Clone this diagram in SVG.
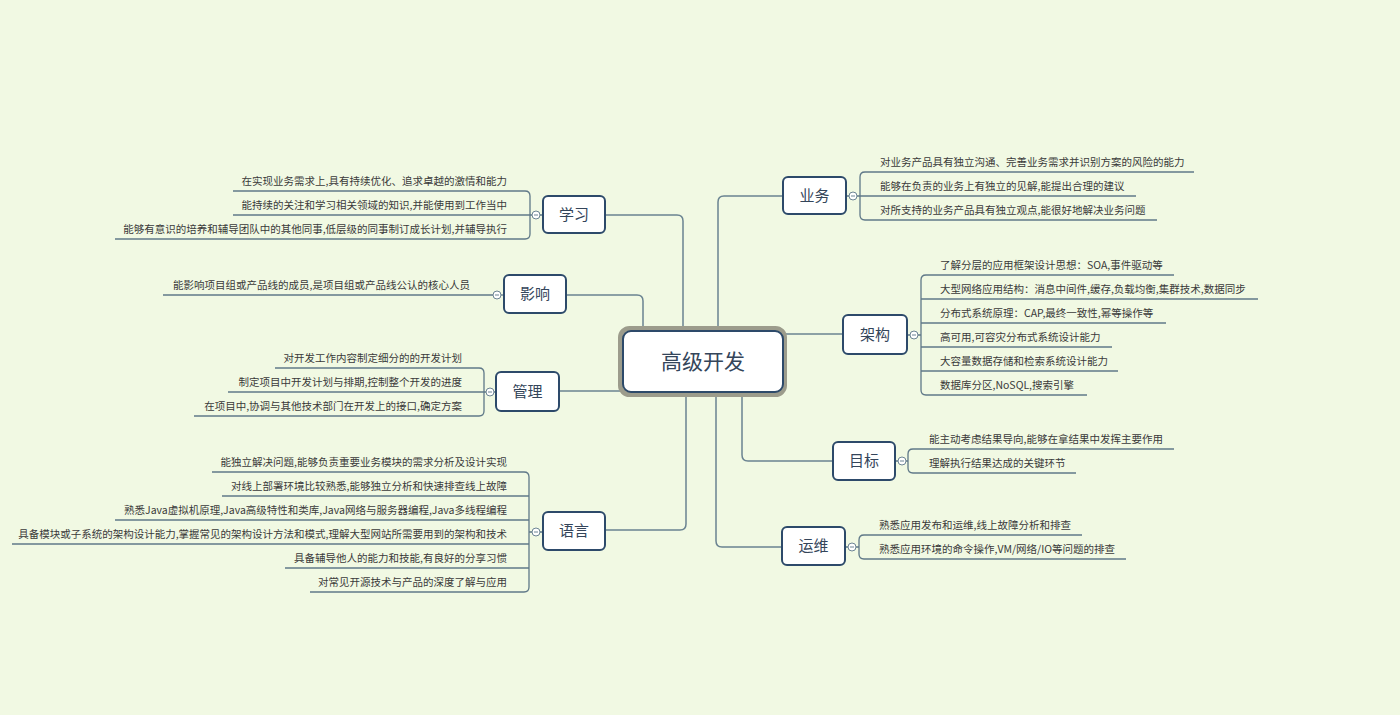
<svg xmlns="http://www.w3.org/2000/svg" width="1400" height="715" viewBox="0 0 1400 715">
<defs>
<style>
.bg{fill:#f1f9e3}
.conn{fill:none;stroke:#6a8391;stroke-width:1.5}
.br{fill:none;stroke:#5f7888;stroke-width:1.3}
.ul{fill:none;stroke:#5f7888;stroke-width:1.3}
.box{fill:#ffffff;stroke:#2d4a6a;stroke-width:2}
.lbl{font-family:"Noto Sans CJK SC","Noto Sans",sans-serif;font-size:15px;fill:#34455a;text-anchor:middle}
.it{font-family:"Noto Sans CJK SC","Noto Sans",sans-serif;font-size:10.5px;fill:#3a3a3a}
.l{text-anchor:end}
.r{text-anchor:start}
.cc{fill:#ffffff;stroke:#6d8594;stroke-width:1}
.cm{stroke:#6d8594;stroke-width:1}
</style>
</defs>
<rect class="bg" x="0" y="0" width="1400" height="715"/>

<g id="connectors">
<path class="conn" d="M605,215 H677 Q683,215 683,221 V331"/>
<path class="conn" d="M566,295 H637 Q643,295 643,301 V331"/>
<path class="conn" d="M718,331 V202 Q718,196 724,196 H783"/>
<path class="conn" d="M783,334 H843"/>
<path class="conn" d="M559,391 H623"/>
<path class="conn" d="M686,392 V524 Q686,530 680,530 H605"/>
<path class="conn" d="M716,392 V541 Q716,547 722,547 H782"/>
<path class="conn" d="M742,392 V455 Q742,461 748,461 H833"/>
<!-- brackets -->
<path class="br" d="M525,191 Q530,191 530,196 V234 Q530,239 525,239 M530,215 H543"/>
<path class="br" d="M497,295 H504"/>
<path class="br" d="M479,368 Q484,368 484,373 V411 Q484,416 479,416 M484,392 H496"/>
<path class="br" d="M524,472 Q529,472 529,477 V587 Q529,592 524,592 M529,532 H543"/>
<path class="br" d="M865,172 Q860,172 860,177 V215 Q860,220 865,220 M846,196 H860"/>
<path class="br" d="M926,275 Q921,275 921,280 V390 Q921,395 926,395 M907,335 H921"/>
<path class="br" d="M913,449 Q908,449 908,454 V468 Q908,473 913,473 M895,461 H908"/>
<path class="br" d="M864,535 Q859,535 859,540 V554 Q859,559 864,559 M845,547 H859"/>
</g>

<g id="center">
<rect x="620.5" y="328.5" width="164" height="66" rx="9" fill="none" stroke="#9c9c8c" stroke-width="5"/>
<rect x="623" y="331" width="160" height="61" rx="8" fill="#ffffff" stroke="#2d4a6a" stroke-width="2"/>
<text x="703" y="369" font-family="Noto Sans CJK SC, sans-serif" font-size="21" fill="#34455a" text-anchor="middle">高级开发</text>
</g>

<g id="node-xuexi">
<rect class="box" x="543" y="196" width="62" height="37" rx="5"/>
<text class="lbl" x="574" y="220">学习</text>
<circle class="cc" cx="536" cy="215" r="4"/><line class="cm" x1="534" y1="215" x2="538" y2="215"/>
<g id="xuexi-1"><path class="ul" d="M233,191 H525"/><text class="it l" x="507" y="185">在实现业务需求上,具有持续优化、追求卓越的激情和能力</text></g>
<g id="xuexi-2"><path class="ul" d="M233,215 H530"/><text class="it l" x="507" y="209">能持续的关注和学习相关领域的知识,并能使用到工作当中</text></g>
<g id="xuexi-3"><path class="ul" d="M115,239 H525"/><text class="it l" x="507" y="233">能够有意识的培养和辅导团队中的其他同事,低层级的同事制订成长计划,并辅导执行</text></g>
</g>

<g id="node-yingxiang">
<rect class="box" x="504" y="275" width="62" height="38" rx="5"/>
<text class="lbl" x="535" y="299">影响</text>
<g id="yingxiang-1"><path class="ul" d="M163,295 H497"/><text class="it l" x="470" y="289">能影响项目组或产品线的成员,是项目组或产品线公认的核心人员</text></g>
<circle class="cc" cx="497" cy="295" r="4"/><line class="cm" x1="495" y1="295" x2="499" y2="295"/>
</g>

<g id="node-guanli">
<rect class="box" x="496" y="372" width="63" height="39" rx="5"/>
<text class="lbl" x="527.5" y="397">管理</text>
<circle class="cc" cx="490" cy="392" r="4"/><line class="cm" x1="488" y1="392" x2="492" y2="392"/>
<g id="guanli-1"><path class="ul" d="M275,368 H479"/><text class="it l" x="462" y="362">对开发工作内容制定细分的的开发计划</text></g>
<g id="guanli-2"><path class="ul" d="M228,392 H484"/><text class="it l" x="462" y="386">制定项目中开发计划与排期,控制整个开发的进度</text></g>
<g id="guanli-3"><path class="ul" d="M194,416 H479"/><text class="it l" x="462" y="410">在项目中,协调与其他技术部门在开发上的接口,确定方案</text></g>
</g>

<g id="node-yuyan">
<rect class="box" x="543" y="512" width="62" height="38" rx="5"/>
<text class="lbl" x="574" y="536">语言</text>
<circle class="cc" cx="536" cy="532" r="4"/><line class="cm" x1="534" y1="532" x2="538" y2="532"/>
<g id="yuyan-1"><path class="ul" d="M212,472 H524"/><text class="it l" x="507" y="466">能独立解决问题,能够负责重要业务模块的需求分析及设计实现</text></g>
<g id="yuyan-2"><path class="ul" d="M222,496 H529"/><text class="it l" x="507" y="490">对线上部署环境比较熟悉,能够独立分析和快速排查线上故障</text></g>
<g id="yuyan-3"><path class="ul" d="M115,520 H529"/><text class="it l" x="507" y="514">熟悉Java虚拟机原理,Java高级特性和类库,Java网络与服务器编程,Java多线程编程</text></g>
<g id="yuyan-4"><path class="ul" d="M12,544 H529"/><text class="it l" x="507" y="538">具备模块或子系统的架构设计能力,掌握常见的架构设计方法和模式,理解大型网站所需要用到的架构和技术</text></g>
<g id="yuyan-5"><path class="ul" d="M285,568 H529"/><text class="it l" x="507" y="562">具备辅导他人的能力和技能,有良好的分享习惯</text></g>
<g id="yuyan-6"><path class="ul" d="M310,592 H524"/><text class="it l" x="507" y="586">对常见开源技术与产品的深度了解与应用</text></g>
</g>

<g id="node-yewu">
<rect class="box" x="783" y="177" width="63" height="37" rx="5"/>
<text class="lbl" x="814.5" y="201">业务</text>
<circle class="cc" cx="853" cy="196" r="4"/><line class="cm" x1="851" y1="196" x2="855" y2="196"/>
<g id="yewu-1"><path class="ul" d="M865,172 H1194"/><text class="it r" x="880" y="166">对业务产品具有独立沟通、完善业务需求并识别方案的风险的能力</text></g>
<g id="yewu-2"><path class="ul" d="M860,196 H1136"/><text class="it r" x="880" y="190">能够在负责的业务上有独立的见解,能提出合理的建议</text></g>
<g id="yewu-3"><path class="ul" d="M865,220 H1157"/><text class="it r" x="880" y="214">对所支持的业务产品具有独立观点,能很好地解决业务问题</text></g>
</g>

<g id="node-jiagou">
<rect class="box" x="843" y="315" width="64" height="39" rx="5"/>
<text class="lbl" x="875" y="340">架构</text>
<circle class="cc" cx="914" cy="335" r="4"/><line class="cm" x1="912" y1="335" x2="916" y2="335"/>
<g id="jiagou-1"><path class="ul" d="M926,275 H1174"/><text class="it r" x="940" y="269">了解分层的应用框架设计思想：SOA,事件驱动等</text></g>
<g id="jiagou-2"><path class="ul" d="M921,299 H1258"/><text class="it r" x="940" y="293">大型网络应用结构：消息中间件,缓存,负载均衡,集群技术,数据同步</text></g>
<g id="jiagou-3"><path class="ul" d="M921,323 H1166"/><text class="it r" x="940" y="317">分布式系统原理：CAP,最终一致性,幂等操作等</text></g>
<g id="jiagou-4"><path class="ul" d="M921,347 H1112"/><text class="it r" x="940" y="341">高可用,可容灾分布式系统设计能力</text></g>
<g id="jiagou-5"><path class="ul" d="M921,371 H1118"/><text class="it r" x="940" y="365">大容量数据存储和检索系统设计能力</text></g>
<g id="jiagou-6"><path class="ul" d="M926,395 H1087"/><text class="it r" x="940" y="389">数据库分区,NoSQL,搜索引擎</text></g>
</g>

<g id="node-mubiao">
<rect class="box" x="833" y="442" width="62" height="38" rx="5"/>
<text class="lbl" x="864" y="466">目标</text>
<circle class="cc" cx="902" cy="461" r="4"/><line class="cm" x1="900" y1="461" x2="904" y2="461"/>
<g id="mubiao-1"><path class="ul" d="M913,449 H1174"/><text class="it r" x="929" y="443">能主动考虑结果导向,能够在拿结果中发挥主要作用</text></g>
<g id="mubiao-2"><path class="ul" d="M913,473 H1076"/><text class="it r" x="929" y="467">理解执行结果达成的关键环节</text></g>
</g>

<g id="node-yunwei">
<rect class="box" x="782" y="527" width="63" height="38" rx="5"/>
<text class="lbl" x="813.5" y="551">运维</text>
<circle class="cc" cx="852" cy="547" r="4"/><line class="cm" x1="850" y1="547" x2="854" y2="547"/>
<g id="yunwei-1"><path class="ul" d="M864,535 H1082"/><text class="it r" x="879" y="529">熟悉应用发布和运维,线上故障分析和排查</text></g>
<g id="yunwei-2"><path class="ul" d="M864,559 H1126"/><text class="it r" x="879" y="553">熟悉应用环境的命令操作,VM/网络/IO等问题的排查</text></g>
</g>
</svg>
